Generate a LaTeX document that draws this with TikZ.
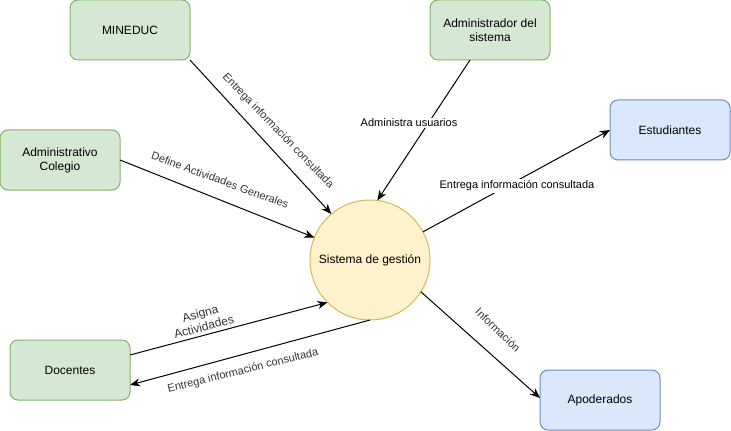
\documentclass[tikz,border=0pt]{standalone}
\usepackage{fontspec}
\setmainfont{Liberation Sans}
\usetikzlibrary{arrows.meta}
\definecolor{gfill}{HTML}{D5E8D4}
\definecolor{gline}{HTML}{82B366}
\definecolor{bfill}{HTML}{DAE8FC}
\definecolor{bline}{HTML}{6C8EBF}
\definecolor{yfill}{HTML}{FFF2CC}
\definecolor{yline}{HTML}{D6B656}
\definecolor{lbl}{HTML}{333333}
\tikzset{
  box/.style={rectangle, rounded corners=6pt, minimum width=90pt, minimum height=45pt,
    inner sep=0pt, outer sep=0pt, line width=0.75pt, align=center,
    font=\fontsize{9pt}{10.5pt}\selectfont},
  gbox/.style={box, draw=gline, fill=gfill},
  bbox/.style={box, draw=bline, fill=bfill},
  sysnode/.style={circle, minimum size=90pt, inner sep=0pt, outer sep=0pt,
    draw=yline, fill=yfill, line width=0.75pt, font=\fontsize{9pt}{10.5pt}\selectfont},
  flow/.style={line width=0.75pt, -{Stealth[length=7.5pt,width=6pt,inset=2.2pt]}},
  elabel/.style={font=\fontsize{8.25pt}{9.5pt}\selectfont, text=lbl, inner sep=1pt, align=center},
  hlabel/.style={font=\fontsize{8.25pt}{9.5pt}\selectfont, text=black, fill=white, inner sep=1pt}
}
\begin{document}
\begin{tikzpicture}[x=0.75pt,y=-0.75pt]
\useasboundingbox (0,0) rectangle (731,431);
\node[gbox] (min) at (130,30) {MINEDUC};
\node[gbox] (adm) at (490,30) {Administrador del\\sistema};
\node[gbox] (col) at (60,160) {Administrativo\\Colegio};
\node[bbox] (est) at (670,130) {Estudiantes};
\node[gbox] (doc) at (70,370) {Docentes};
\node[bbox] (apo) at (600,400) {Apoderados};
\node[sysnode] (sys) at (370,260) {Sistema de gestión};

\draw[flow] (min.south east) -- (sys.130);
\draw[flow] (col.east) -- (sys.158);
\draw[flow] ([xshift=-15pt]adm.south) -- (sys.83);
\draw[flow] (sys.28) -- (est.west);
\draw[flow] (sys.-32) -- ([yshift=1.5pt]apo.west);
\draw[flow] ([yshift=11.25pt]doc.east) -- (sys.-135);
\draw[flow] (sys.-90) -- ([yshift=-11.25pt]doc.east);

\node[elabel, rotate=-46] (l1) at (278,131) {Entrega información consultada};
\node[elabel, rotate=-20] (l2) at (220,180) {Define Actividades Generales};
\node[hlabel] (l3) at (409,123) {Administra usuarios};
\node[hlabel] (l4) at (517,186) {Entrega información consultada};
\node[elabel, rotate=-44] (l5) at (498,330) {Información};
\node[elabel, rotate=15, font=\fontsize{9pt}{10.5pt}\selectfont] (l6) at (202,320) {Asigna\\Actividades};
\node[elabel, rotate=14] (l7) at (243,371) {Entrega información consultada};
\end{tikzpicture}
\end{document}
